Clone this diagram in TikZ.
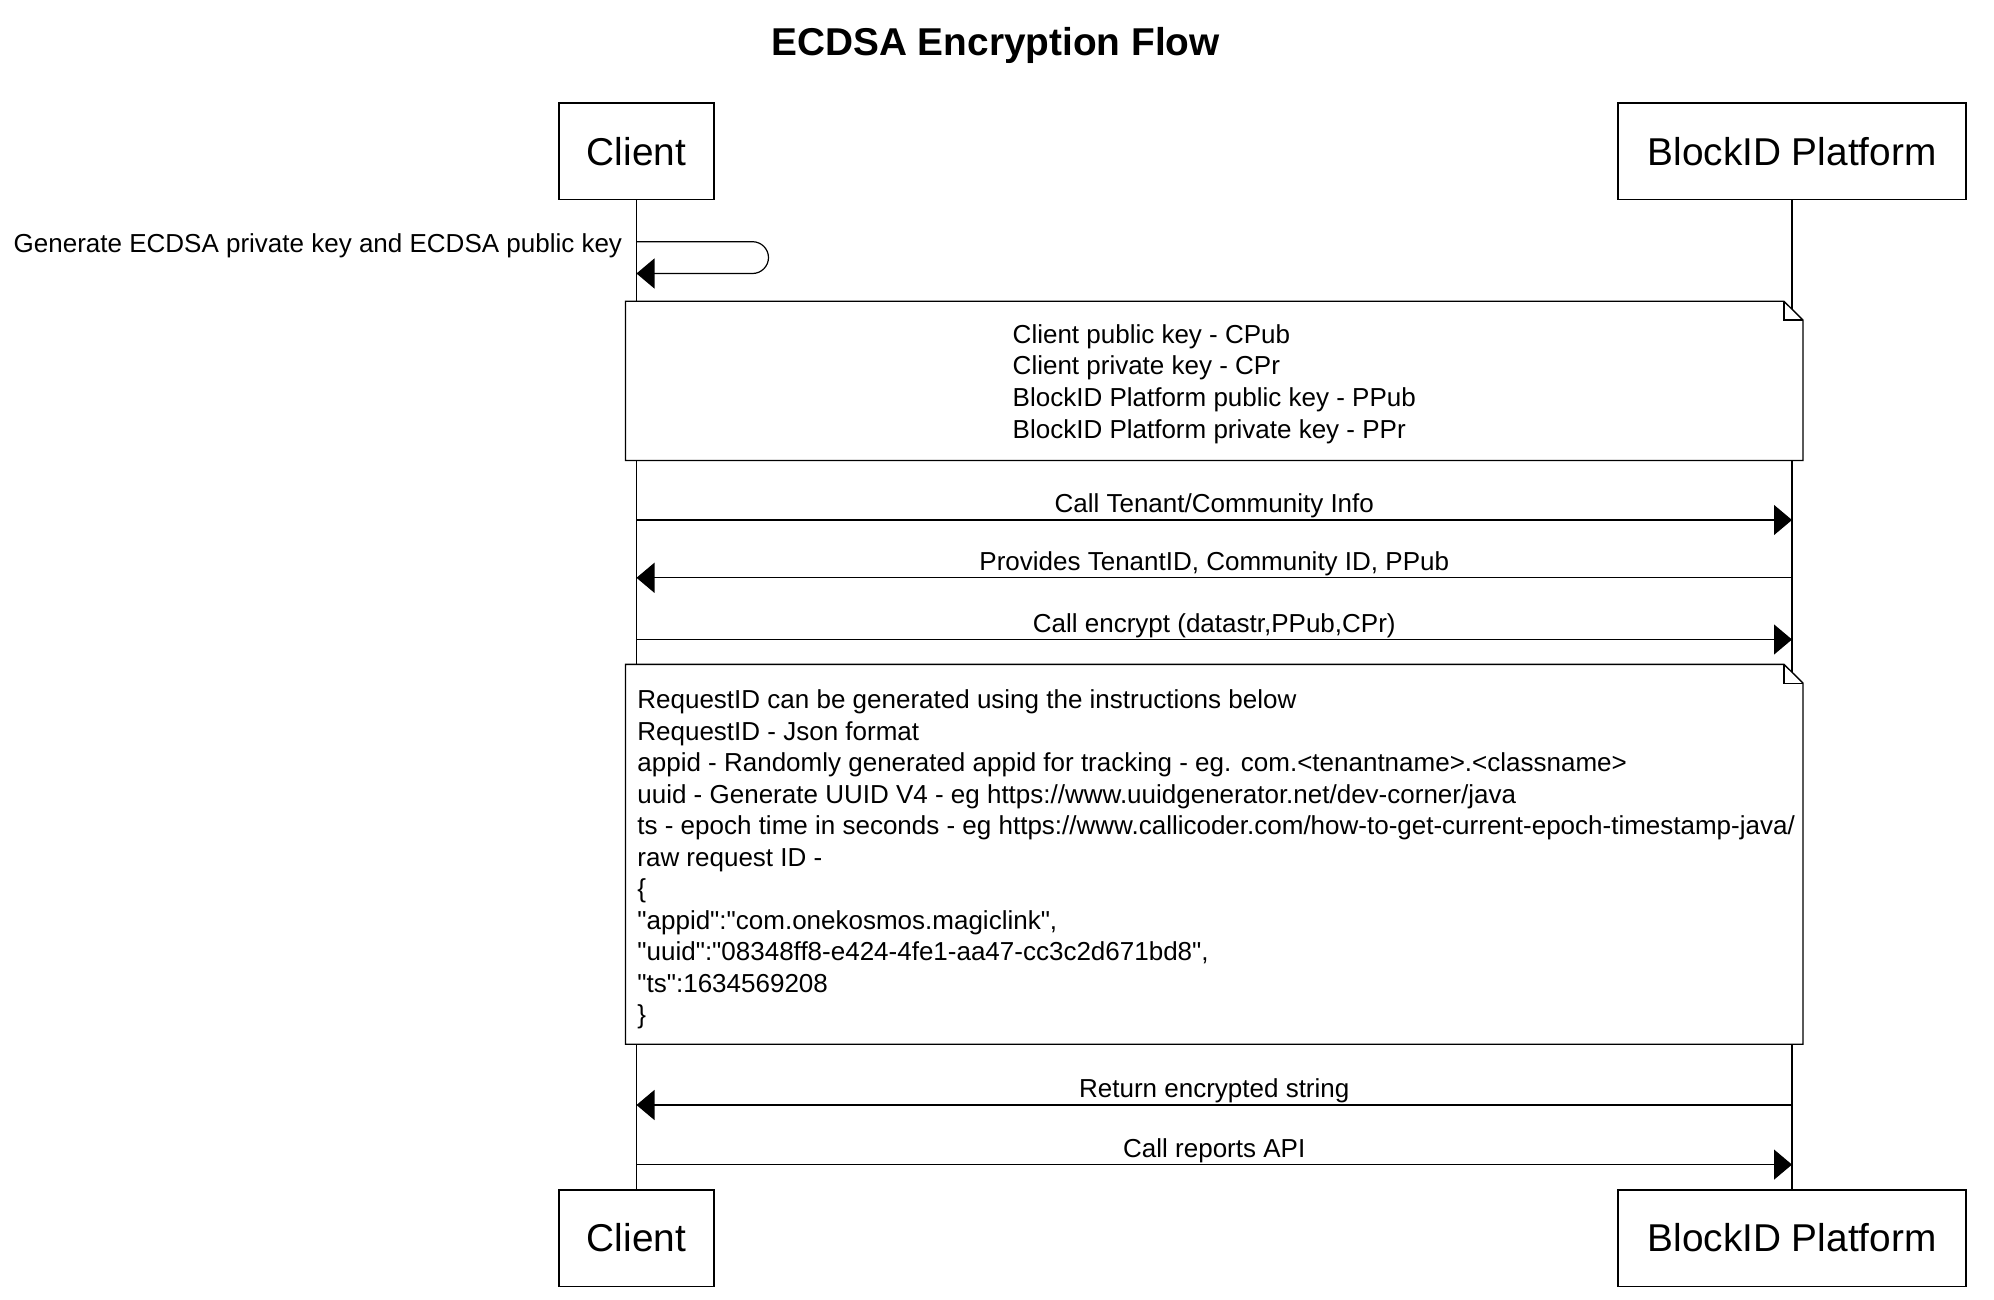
\documentclass[tikz,border=0pt]{standalone}
\usepackage{fontspec}
\setmainfont{Liberation Sans}[Ligatures=TeXOff]
\usetikzlibrary{arrows.meta, positioning, calc}

\begin{document}
\begin{tikzpicture}[x=0.5pt, y=-0.5pt, >={Triangle[length=9pt, width=15pt]},
    actor/.style={draw, fill=white, line width=0.7pt, minimum height=48.2pt, font=\fontsize{19.4}{23}\selectfont},
    txt/.style={font=\fontsize{13}{15.76}\selectfont},
    lbl/.style={txt, above, inner sep=0.6pt},
    msg/.style={->, line width=0.6pt},
    notebox/.style={draw, fill=white, line width=0.7pt}]
            \useasboundingbox (0,0) rectangle (1994,1300);

            % Title
            \node[font=\fontsize{19.4}{23}\selectfont\bfseries] (title) at (995.5,45) {ECDSA Encryption Flow};

            % Participants
            \node[actor, minimum width=77.6pt] (C1) at (636.5,151.2) {Client};
            \node[actor, minimum width=174pt] (P1) at (1792,151.2) {BlockID Platform};
            \node[actor, minimum width=77.6pt] (C2) at (636.5,1238) {Client};
            \node[actor, minimum width=174pt] (P2) at (1792,1238) {BlockID Platform};

            % Lifelines
            \draw[line width=0.6pt] (C1) -- (C2);
            \draw[line width=0.6pt] (P1) -- (P2);

            % Self message
            \coordinate (s1) at (636.5,241.7);
            \coordinate (s2) at (636.5,273.5);
            \draw[msg, rounded corners=8pt] (s1) -- ++(132,0) -- ++(0,31.8) -- (s2);
            \node[txt, anchor=east, inner sep=2pt] (gen) at (626.5,245.7) {Generate ECDSA private key and ECDSA public key};

            % Key note
            \draw[notebox] (625.5,301.3) -- (1784,301.3) -- (1803,320.2) -- (1803,460.5) -- (625.5,460.5) -- cycle;
            \draw[line width=0.7pt] (1784,301.3) -- (1784,320.2) -- (1803,320.2);
            \node[txt, align=left] (keys) at (1214.3,384) {Client public key - CPub\\
                Client private key - CPr\\
                BlockID Platform public key - PPub\\
                BlockID Platform private key - PPr};

            % Messages
            \coordinate (c1) at (636.5,520);
            \coordinate (p1) at (1792,520);
            \coordinate (c2) at (636.5,577.8);
            \coordinate (p2) at (1792,577.8);
            \coordinate (c3) at (636.5,639.5);
            \coordinate (p3) at (1792,639.5);
            \draw[msg] (c1) -- node[lbl] {Call Tenant/Community Info} (p1);
            \draw[msg] (p2) -- node[lbl] {Provides TenantID, Community ID, PPub} (c2);
            \draw[msg] (c3) -- node[lbl] {Call encrypt (datastr,PPub,CPr)} (p3);

            % RequestID note
            \draw[notebox] (625.5,664.3) -- (1784,664.3) -- (1803,683.2) -- (1803,1044.2) -- (625.5,1044.2) -- cycle;
            \draw[line width=0.7pt] (1784,664.3) -- (1784,683.2) -- (1803,683.2);
            \node[txt, align=left, anchor=west, inner sep=0pt] (reqid) at (637,859.5) {RequestID can be generated using the instructions below\\
                RequestID - Json format\\
                appid - Randomly generated appid for tracking - eg. com.<tenantname>.<classname>\\
                uuid - Generate UUID V4 - eg https://www.uuidgenerator.net/dev-corner/java\\
                ts - epoch time in seconds - eg https://www.callicoder.com/how-to-get-current-epoch-timestamp-java/\\
                raw request ID -\\
                \{\\
                "appid":"com.onekosmos.magiclink",\\
                "uuid":"08348ff8-e424-4fe1-aa47-cc3c2d671bd8",\\
                "ts":1634569208\\
                \}};

            \coordinate (c4) at (636.5,1105);
            \coordinate (p4) at (1792,1105);
            \coordinate (c5) at (636.5,1164.6);
            \coordinate (p5) at (1792,1164.6);
            \draw[msg] (p4) -- node[lbl] {Return encrypted string} (c4);
            \draw[msg] (c5) -- node[lbl] {Call reports API} (p5);
        \end{tikzpicture}
\end{document}
